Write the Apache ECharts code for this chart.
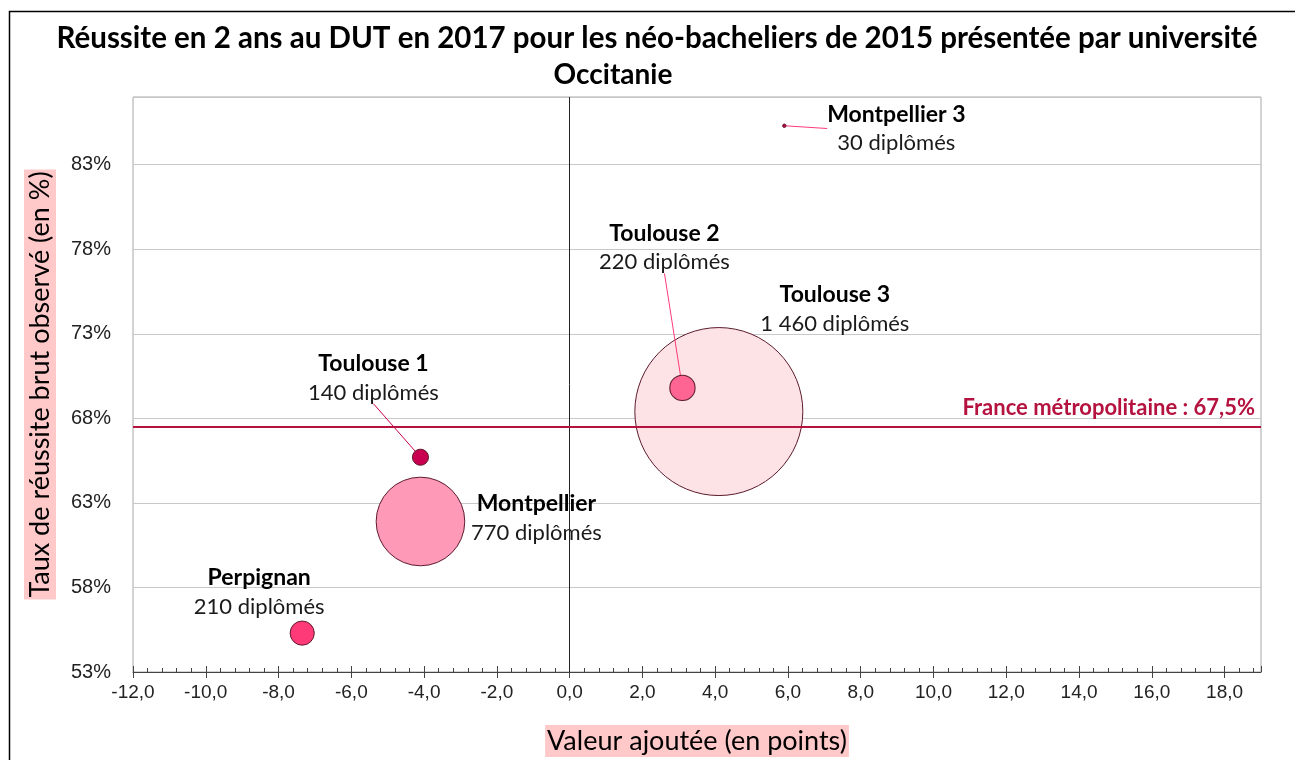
<!DOCTYPE html>
<html>
<head>
<meta charset="utf-8">
<script src="https://cdn.jsdelivr.net/npm/echarts@6/dist/echarts.min.js"></script>
<style>
  html, body { margin: 0; padding: 0; background: #fff; }
  #chart { width: 1295px; height: 760px; }
</style>
</head>
<body>
<div id="chart"></div>
<script>
// universités (valeur ajoutée, taux brut, nb de diplômés) - grosses bulles d'abord
const names = ['Toulouse 3', 'Montpellier', 'Toulouse 2', 'Perpignan', 'Toulouse 1', 'Montpellier 3']
const valeurAjoutee = [4.1, -4.1, 3.1, -7.35, -4.1, 5.9]
const tauxBrut = [68.4, 61.9, 69.8, 55.3, 65.7, 85.3]
const diplomes = [1460, 770, 220, 210, 140, 30]
const franceMetro = 67.5

// style de chaque bulle
const fillColors = ['#fde3e5', '#ff99b8', '#ff6593', '#ff3a78', '#c8004f', '#c8004f']
// décalage des étiquettes (px) et trait de rappel
const labelShift = [[116, -102], [116, -3], [-18, -140], [-43, -41], [-47, -79], [112, 3]]
const guideLine = [false, false, true, false, true, true]

const fmtN = n => String(n).replace(/\B(?=(\d{3})+(?!\d))/g, ' ')

// une série par université pour que les traits de rappel passent au-dessus des grosses bulles
const series = names.map((name, i) => ({
  type: 'scatter',
  name,
  z: 2 + i,
  data: [{ name, value: [valeurAjoutee[i], tauxBrut[i], diplomes[i]] }],
  symbolSize: v => Math.max(v[2] * 168 / 1460, 3),
  itemStyle: { color: fillColors[i], borderColor: '#5b1a2c', borderWidth: 1, opacity: 1 },
  label: {
    show: true,
    position: 'inside',
    formatter: p => '{b|' + p.name + '}\n{n|' + fmtN(p.value[2]) + ' diplômés}',
    rich: {
      b: { fontFamily: 'Lato', fontWeight: 'bold', fontSize: 23, color: '#000', lineHeight: 29 },
      n: { fontFamily: 'Lato', fontSize: 22, color: '#1a1a1a', lineHeight: 29 }
    }
  },
  labelLine: { show: guideLine[i], lineStyle: { color: name === 'Toulouse 1' ? '#c8004f' : '#ff3a78', width: 1 } },
  labelLayout: { dx: labelShift[i][0], dy: labelShift[i][1] },
  emphasis: { disabled: true }
}))

// lignes de référence : axe x = 0 et moyenne France
series.push({
  type: 'scatter',
  z: 1,
  data: [],
  markLine: {
    silent: true,
    symbol: 'none',
    data: [{
      xAxis: 0,
      lineStyle: { color: '#222', width: 1, type: 'solid' },
      label: { show: false }
    }, {
      yAxis: franceMetro,
      lineStyle: { color: '#b5123f', width: 2, type: 'solid' },
      label: {
        show: true,
        position: 'insideEndTop',
        formatter: 'France métropolitaine : 67,5%',
        fontFamily: 'Lato',
        fontWeight: 'bold',
        fontSize: 22,
        color: '#b5123f',
        distance: [6, 8]
      }
    }]
  }
})

const chart = echarts.init(document.getElementById('chart'))
const option = {
  animation: false,
  textStyle: { fontFamily: 'Lato' },
  graphic: [{
    type: 'rect',
    shape: { x: 9.5, y: 11.5, width: 1400, height: 900 },
    style: { fill: 'none', stroke: '#000', lineWidth: 1.5 },
    silent: true
  }, {
    type: 'text',
    x: 657,
    y: 38,
    style: {
      text: 'Réussite en 2 ans au DUT en 2017 pour les néo-bacheliers de 2015 présentée par université',
      font: 'bold 29.5px Lato',
      fill: '#000',
      align: 'center',
      verticalAlign: 'middle'
    }
  }, {
    type: 'text',
    x: 613,
    y: 75,
    style: {
      text: 'Occitanie',
      font: 'bold 28px Lato',
      fill: '#000',
      align: 'center',
      verticalAlign: 'middle'
    }
  }],
  grid: {
    left: 133, top: 97, right: 34, bottom: 88,
    outerBoundsMode: 'none',
    show: true, borderColor: '#a6a6a6', borderWidth: 1
  },
  xAxis: [{
    type: 'value',
    min: -12,
    max: 19,
    interval: 2,
    name: 'Valeur ajoutée (en points)',
    nameLocation: 'middle',
    nameGap: 53,
    nameTextStyle: { fontFamily: 'Lato', fontSize: 27, color: '#000', backgroundColor: '#ffc9c9', padding: [3, 2, 2, 2] },
    axisLine: { lineStyle: { color: '#444', width: 1 } },
    axisTick: { show: true, length: 6, lineStyle: { color: '#444' } },
    axisLabel: {
      showMaxLabel: false,
      fontFamily: 'Liberation Sans',
      fontSize: 19,
      color: '#222',
      margin: 11,
      formatter: v => v.toFixed(1).replace('.', ',')
    },
    splitLine: { show: false }
  }, {
    type: 'value',
    min: -12,
    max: 19,
    interval: 2,
    position: 'bottom',
    axisLine: { show: false },
    axisTick: { show: true, inside: true, length: 6, lineStyle: { color: '#444' } },
    minorTick: { show: true, splitNumber: 5, length: 4, lineStyle: { color: '#444' } },
    axisLabel: { show: false },
    splitLine: { show: false }
  }],
  yAxis: {
    type: 'value',
    min: 53,
    max: 87,
    interval: 5,
    name: 'Taux de réussite brut observé (en %)',
    nameLocation: 'middle',
    nameGap: 77,
    nameTextStyle: { fontFamily: 'Lato', fontSize: 27, color: '#000', backgroundColor: '#ffc9c9', padding: [3, 2, 2, 2] },
    axisLine: { show: false },
    axisTick: { show: false },
    axisLabel: {
      showMaxLabel: false,
      fontFamily: 'Liberation Sans',
      fontSize: 20,
      color: '#222',
      margin: 22,
      formatter: v => v + '%'
    },
    splitLine: { lineStyle: { color: '#c8c8c8', width: 1 } }
  },
  series
}
chart.setOption(option)
</script>
</body>
</html>
